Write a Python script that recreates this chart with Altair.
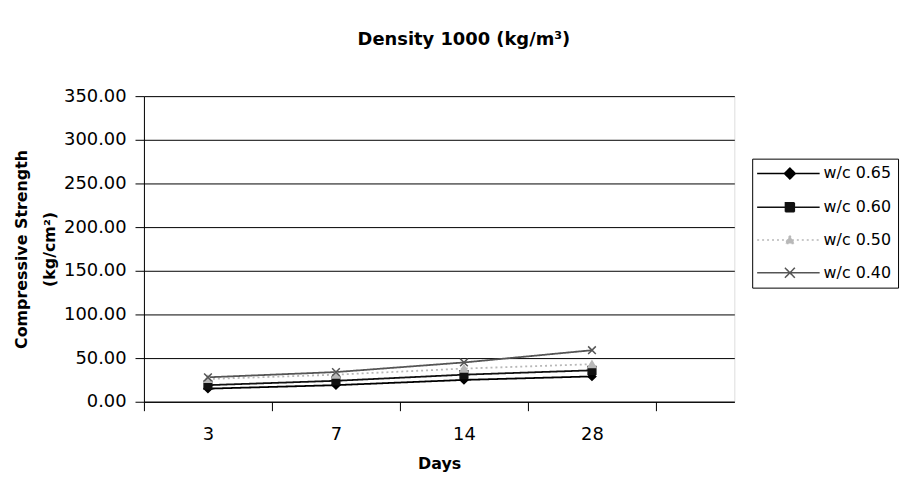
import altair as alt
import pandas as pd

days = ["3", "7", "14", "28"]
series_names = ["w/c 0.65", "w/c 0.60", "w/c 0.50", "w/c 0.40"]
wc065 = [15, 19, 25, 29]
wc060 = [19, 24, 31, 36]
wc050 = [26, 31, 38, 43]
wc040 = [28, 34, 45, 59]

values = [wc065, wc060, wc050, wc040]
rows = []
for name, vals in zip(series_names, values):
    for d, v in zip(days, vals):
        rows.append({"day": d, "series": name, "value": v})
df = pd.DataFrame(rows)

FONT = "DejaVu Sans"
stroke_colors = ["#000000", "#111111", "#b8b8b8", "#555555"]
fill_colors = ["#000000", "#111111", "#b8b8b8", "transparent"]
dashes = [[1, 0], [1, 0], [2, 3], [1, 0]]
plot_shapes = ["diamond", "square", "triangle-up", "M-1,-1L1,1M-1,1L1,-1"]
legend_shapes = [
    "M-2,0H10.6M4.6,-1.1L5.7,0L4.6,1.1L3.5,0Z",
    "M-2,0H10.6M3.7,-0.9H5.5V0.9H3.7Z",
    "M-2,0H10.6M4.6,-0.9L5.5,0.7H3.7Z",
    "M-2,0H10.6M3.6,-1L5.6,1M3.6,1L5.6,-1",
]

x = alt.X(
    "day:N",
    sort=days,
    scale=alt.Scale(type="band", paddingInner=0, paddingOuter=0.306, align=0),
    axis=alt.Axis(
        title="Days", labelAngle=0, tickBand="extent", tickSize=9,
        labelFontSize=18, labelFont=FONT, labelColor="black", labelPadding=15,
        titleFont=FONT, titleFontSize=16, titleFontWeight="bold", titleColor="black",
        titlePadding=12, domainColor="black", tickColor="black", grid=False,
    ),
)
y = alt.Y(
    "value:Q",
    scale=alt.Scale(domain=[0, 350], nice=False),
    axis=alt.Axis(
        title=["Compressive Strength", "(kg/cm²)"],
        values=[0, 50, 100, 150, 200, 250, 300, 350], format=".2f",
        tickSize=9, labelPadding=9, labelFontSize=18, labelFont=FONT, labelColor="black",
        titleFont=FONT, titleFontSize=16, titleFontWeight="bold", titleColor="black",
        titleLineHeight=28, titlePadding=6,
        grid=True, gridColor="black", gridOpacity=1, gridWidth=1,
        domainColor="black", tickColor="black",
    ),
)

base = alt.Chart(df)

lines = base.mark_line(strokeWidth=1.8).encode(
    x=x, y=y,
    stroke=alt.Stroke("series:N", scale=alt.Scale(domain=series_names, range=stroke_colors), legend=None),
    strokeDash=alt.StrokeDash("series:N", scale=alt.Scale(domain=series_names, range=dashes), legend=None),
)

points = base.mark_point(filled=True, size=60, strokeWidth=1.5, opacity=1).encode(
    x=x, y=y,
    shape=alt.Shape("series:N", scale=alt.Scale(domain=series_names, range=plot_shapes), legend=None),
    stroke=alt.Stroke("series:N", scale=alt.Scale(domain=series_names, range=stroke_colors), legend=None),
    fill=alt.Fill("series:N", scale=alt.Scale(domain=series_names, range=fill_colors), legend=None),
)

legend_layer = base.transform_filter("false").mark_point(filled=True, size=100, strokeWidth=1.5, opacity=1).encode(
    shape=alt.Shape(
        "series:N", scale=alt.Scale(domain=series_names, range=legend_shapes),
        legend=alt.Legend(
            title=None, orient="none", legendX=613, legendY=63,
            labelFont=FONT, labelFontSize=16, labelColor="black", labelOffset=49,
            strokeColor="black", fillColor="white", padding=7, rowPadding=17,
            symbolStrokeWidth=1.5, symbolSize=100,
        ),
    ),
    stroke=alt.Stroke("series:N", scale=alt.Scale(domain=series_names, range=stroke_colors)),
    fill=alt.Fill("series:N", scale=alt.Scale(domain=series_names, range=fill_colors)),
    strokeDash=alt.StrokeDash("series:N", scale=alt.Scale(domain=series_names, range=dashes)),
)

chart = (
    alt.layer(lines, points, legend_layer)
    .resolve_scale(stroke="independent", fill="independent", shape="independent", strokeDash="independent")
    .properties(
        width=595, height=308,
        title=alt.TitleParams(
            "Density 1000 (kg/m³)", font=FONT, fontSize=18, fontWeight="bold", color="black",
            anchor="middle", frame="group", dx=25, offset=25, baseline="alphabetic",
        ),
        autosize=alt.AutoSizeParams(type="none"),
        padding={"left": 137, "top": 87, "right": 170, "bottom": 72},
    )
    .configure_view(stroke="black", strokeWidth=1)
    .configure(background="white")
)

chart.save("out.html", embed_options={"renderer": "svg", "actions": False})
